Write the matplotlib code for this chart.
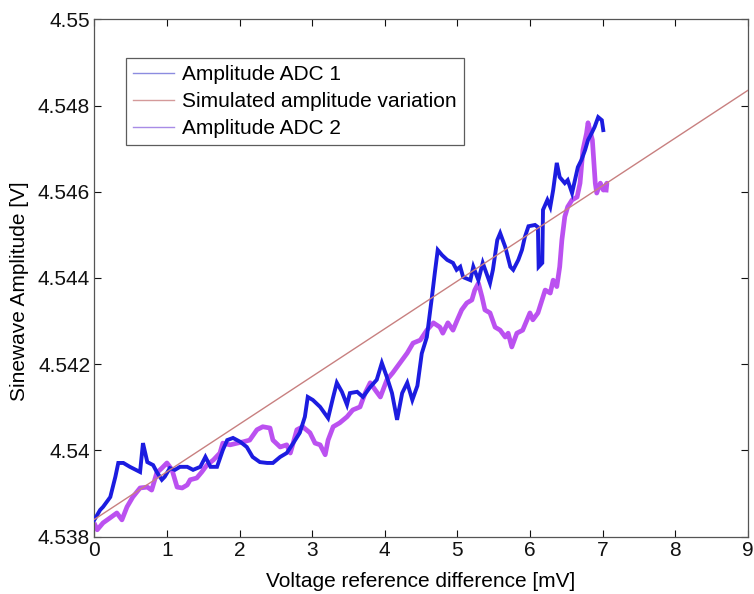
import matplotlib
matplotlib.use("Agg")
import matplotlib.pyplot as plt
from matplotlib.lines import Line2D

plt.rcParams['font.family'] = ['Liberation Sans', 'DejaVu Sans']

# ---- data ----
adc1_x = [0.00, 0.08, 0.12, 0.19, 0.22, 0.29, 0.33, 0.40, 0.49, 0.63, 0.67, 0.73, 0.81, 0.86,
          0.93, 0.97, 1.04, 1.11, 1.18, 1.28, 1.36, 1.46, 1.53, 1.60, 1.69, 1.77, 1.83, 1.91,
          2.01, 2.10, 2.18, 2.28, 2.38, 2.46, 2.56, 2.65, 2.74, 2.83, 2.90, 2.94, 3.01, 3.11,
          3.22, 3.29, 3.34, 3.41, 3.48, 3.52, 3.62, 3.70, 3.80, 3.89, 3.96, 4.03, 4.10, 4.17,
          4.24, 4.31, 4.38, 4.42, 4.45, 4.51, 4.58, 4.65, 4.69, 4.73, 4.79, 4.86, 4.94, 4.99,
          5.04, 5.08, 5.18, 5.22, 5.29, 5.35, 5.45, 5.49, 5.55, 5.59, 5.66, 5.73, 5.77, 5.84,
          5.89, 5.93, 5.98, 6.07, 6.11, 6.12, 6.17, 6.18, 6.24, 6.28, 6.32, 6.37, 6.41, 6.48,
          6.52, 6.58, 6.62, 6.66, 6.71, 6.76, 6.80, 6.85, 6.89, 6.94, 6.99, 7.01]
adc1_y = [4.53839, 4.53862, 4.53869, 4.53885, 4.53892, 4.53939, 4.53971, 4.53971, 4.53962,
          4.53950, 4.54017, 4.53973, 4.53966, 4.53950, 4.53932, 4.53939, 4.53959, 4.53955,
          4.53962, 4.53962, 4.53955, 4.53962, 4.53985, 4.53962, 4.53962, 4.54001, 4.54024,
          4.54029, 4.54020, 4.54008, 4.53985, 4.53973, 4.53971, 4.53971, 4.53985, 4.53994,
          4.54017, 4.54041, 4.54078, 4.54124, 4.54117, 4.54101, 4.54075, 4.54124, 4.54157,
          4.54136, 4.54106, 4.54133, 4.54136, 4.54124, 4.54147, 4.54164, 4.54203, 4.54170,
          4.54133, 4.54071, 4.54133, 4.54157, 4.54117, 4.54136, 4.54150, 4.54225, 4.54263,
          4.54356, 4.54412, 4.54465, 4.54453, 4.54442, 4.54435, 4.54419, 4.54426, 4.54402,
          4.54395, 4.54426, 4.54395, 4.54435, 4.54388, 4.54419, 4.54488, 4.54504, 4.54472,
          4.54426, 4.54419, 4.54442, 4.54465, 4.54495, 4.54520, 4.54523, 4.54518, 4.54426,
          4.54435, 4.54558, 4.54581, 4.54565, 4.54604, 4.54667, 4.54634, 4.54620, 4.54627,
          4.54597, 4.54627, 4.54657, 4.54674, 4.54697, 4.54720, 4.54736, 4.54750, 4.54773,
          4.54766, 4.54743]

adc2_x = [0.01, 0.04, 0.12, 0.22, 0.31, 0.38, 0.45, 0.53, 0.63, 0.73, 0.79, 0.86, 0.93, 1.00,
          1.07, 1.14, 1.21, 1.28, 1.32, 1.41, 1.48, 1.55, 1.64, 1.73, 1.77, 1.87, 1.97, 2.05,
          2.14, 2.24, 2.32, 2.42, 2.46, 2.56, 2.65, 2.70, 2.79, 2.87, 2.97, 3.04, 3.11, 3.18,
          3.22, 3.29, 3.38, 3.48, 3.56, 3.66, 3.73, 3.80, 3.87, 3.94, 4.03, 4.11, 4.21, 4.31,
          4.39, 4.49, 4.58, 4.67, 4.76, 4.80, 4.87, 4.94, 5.00, 5.06, 5.13, 5.20, 5.24, 5.29,
          5.34, 5.38, 5.45, 5.52, 5.59, 5.66, 5.70, 5.75, 5.82, 5.90, 6.00, 6.04, 6.11, 6.21,
          6.28, 6.32, 6.37, 6.41, 6.44, 6.48, 6.52, 6.58, 6.65, 6.69, 6.73, 6.78, 6.80, 6.86,
          6.90, 6.92, 6.97, 7.01, 7.06, 7.05]
adc2_y = [4.53827, 4.53816, 4.53832, 4.53844, 4.53855, 4.53839, 4.53869, 4.53892, 4.53913,
          4.53915, 4.53908, 4.53948, 4.53959, 4.53971, 4.53955, 4.53915, 4.53913, 4.53920,
          4.53932, 4.53936, 4.53950, 4.53966, 4.53978, 4.53994, 4.54017, 4.54013, 4.54017,
          4.54020, 4.54024, 4.54048, 4.54055, 4.54052, 4.54024, 4.54008, 4.54013, 4.53994,
          4.54048, 4.54055, 4.54041, 4.54017, 4.54013, 4.53990, 4.54024, 4.54055, 4.54064,
          4.54078, 4.54094, 4.54101, 4.54133, 4.54157, 4.54140, 4.54124, 4.54164, 4.54180,
          4.54203, 4.54226, 4.54249, 4.54256, 4.54279, 4.54296, 4.54286, 4.54272, 4.54296,
          4.54279, 4.54303, 4.54326, 4.54342, 4.54349, 4.54372, 4.54388, 4.54356, 4.54326,
          4.54319, 4.54286, 4.54279, 4.54263, 4.54272, 4.54240, 4.54272, 4.54279, 4.54319,
          4.54303, 4.54319, 4.54372, 4.54365, 4.54395, 4.54380, 4.54426, 4.54488, 4.54542,
          4.54565, 4.54581, 4.54588, 4.54620, 4.54697, 4.54736, 4.54760, 4.54720, 4.54620,
          4.54597, 4.54620, 4.54604, 4.54620, 4.54604]

sim_x = [0.0, 9.0]
sim_y = [4.5384, 4.54835]

x_ticks = [0, 1, 2, 3, 4, 5, 6, 7, 8, 9]
y_ticks = [4.538, 4.540, 4.542, 4.544, 4.546, 4.548, 4.550]
y_tick_labels = ['4.538', '4.54', '4.542', '4.544', '4.546', '4.548', '4.55']

labels = ['Amplitude ADC 1', 'Simulated amplitude variation', 'Amplitude ADC 2']

c_blue = '#1c1ce0'
c_red = '#c88080'
c_mag = '#b848f0'
FS = 15

fig = plt.figure(figsize=(7.54, 5.94), dpi=100)
ax = fig.add_axes([0.1251, 0.0965, 0.8666, 0.871])

ax.plot(adc1_x, adc1_y, color=c_blue, lw=2.8, solid_joinstyle='miter', zorder=3)
ax.plot(sim_x, sim_y, color=c_red, lw=1.0, zorder=4)
ax.plot(adc2_x, adc2_y, color=c_mag, lw=3.4, alpha=0.95, zorder=2)

ax.set_xlim(0, 9)
ax.set_ylim(4.538, 4.550)
ax.set_xticks(x_ticks)
ax.set_xticklabels([str(t) for t in x_ticks])
ax.set_yticks(y_ticks)
ax.set_yticklabels(y_tick_labels)
ax.tick_params(direction='in', top=True, right=True, length=5, width=0.8,
               labelsize=FS, colors='#111111', pad=3)
for s in ax.spines.values():
    s.set_color('#555555')
    s.set_linewidth(0.9)

ax.set_xlabel('Voltage reference difference [mV]', fontsize=FS, labelpad=9)
ax.set_ylabel('Sinewave Amplitude [V]', fontsize=FS)
ax.yaxis.set_label_coords(-0.100, 0.475)

handles = [Line2D([], [], color='#8c8ce0', lw=1.0),
           Line2D([], [], color='#d49a9a', lw=1.0),
           Line2D([], [], color='#a88ce6', lw=1.0)]
leg = ax.legend(handles, labels, loc='upper left', bbox_to_anchor=(0.0485, 0.925),
                fontsize=FS, frameon=True, fancybox=False, handlelength=1.95,
                handletextpad=0.4, borderpad=0.35, labelspacing=0.37,
                borderaxespad=0)
leg.get_frame().set_edgecolor('#333333')
leg.get_frame().set_linewidth(0.9)

fig.savefig('out.png', dpi=100)
